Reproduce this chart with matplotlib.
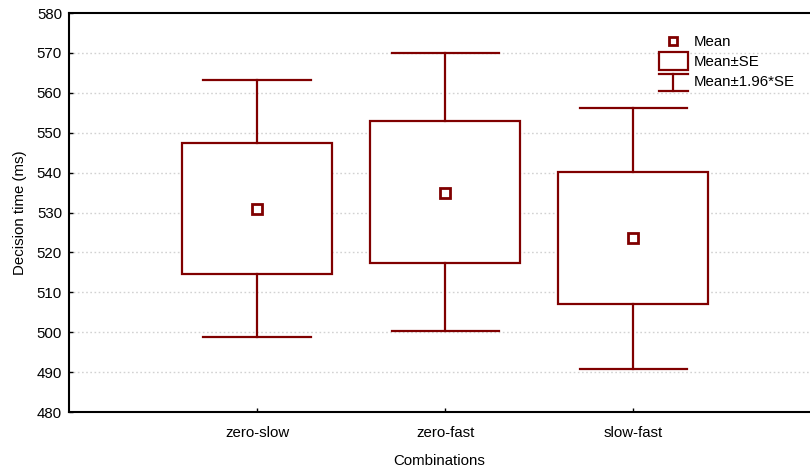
import matplotlib
matplotlib.use("Agg")
import matplotlib.pyplot as plt
from matplotlib.patches import Rectangle
from matplotlib.lines import Line2D

plt.rcParams['font.family'] = ['Liberation Sans', 'DejaVu Sans']

# data
categories = ['zero-slow', 'zero-fast', 'slow-fast']
means = [530.8, 534.8, 523.5]
se_low = [514.6, 517.3, 507.1]
se_high = [547.4, 552.9, 540.2]
ci_low = [498.8, 500.3, 490.9]
ci_high = [563.2, 570.0, 556.3]

col = '#800000'
fs = 10.8

fig = plt.figure(figsize=(8.10, 4.73), dpi=100)
ax = fig.add_axes([69 / 810, 61 / 473, 1 - 69 / 810, 399 / 473])

box_w = 0.8
cap_w = 0.57
for i, cat in enumerate(categories):
    x = i + 1
    ax.add_patch(Rectangle((x - box_w / 2, se_low[i]), box_w, se_high[i] - se_low[i],
                           facecolor='white', edgecolor=col, lw=1.6, zorder=3))
    ax.plot([x, x], [se_high[i], ci_high[i]], color=col, lw=1.6, zorder=3)
    ax.plot([x, x], [ci_low[i], se_low[i]], color=col, lw=1.6, zorder=3)
    ax.plot([x - cap_w / 2, x + cap_w / 2], [ci_high[i]] * 2, color=col, lw=1.6, zorder=3)
    ax.plot([x - cap_w / 2, x + cap_w / 2], [ci_low[i]] * 2, color=col, lw=1.6, zorder=3)
    ax.plot(x, means[i], marker='s', ms=6.5, mfc='white', mec=col, mew=2, zorder=4)

ax.set_xlim(0, 3.94)
ax.set_ylim(480, 580)
ax.set_xticks([1, 2, 3])
ax.set_xticklabels(categories)
ax.set_yticks(range(480, 581, 10))
ax.tick_params(direction='in', length=3, labelsize=fs, width=1)
ax.tick_params(axis='x', pad=10)
ax.tick_params(axis='y', pad=5)
ax.set_xlabel('Combinations', fontsize=fs, labelpad=10)
ax.set_ylabel('Decision time (ms)', fontsize=fs, labelpad=7)
for y in range(490, 580, 10):
    ax.axhline(y, color='#d2d2d2', lw=1, ls=(0, (1.2, 1.8)), zorder=1)
ax.spines['right'].set_visible(False)
for s in ['left', 'top', 'bottom']:
    ax.spines[s].set_linewidth(1.5)

# legend drawn in axes fraction
tr = ax.transAxes
def fx(px):
    return (px - 69) / (810 - 69)
def fy(py):
    return (412 - py) / 399

ax.add_line(Line2D([fx(673)], [fy(41)], marker='s', ms=6, mfc='white', mec=col, mew=2,
                   transform=tr, zorder=5))
ax.add_patch(Rectangle((fx(659), fy(70)), fx(688) - fx(659), fy(52) - fy(70),
                       transform=tr, facecolor='white', edgecolor=col, lw=1.6, zorder=5))
ax.add_line(Line2D([fx(673), fx(673)], [fy(74), fy(91)], color=col, lw=1.6, transform=tr, zorder=5))
ax.add_line(Line2D([fx(659), fx(688)], [fy(74), fy(74)], color=col, lw=1.6, transform=tr, zorder=5))
ax.add_line(Line2D([fx(659), fx(688)], [fy(91), fy(91)], color=col, lw=1.6, transform=tr, zorder=5))
ax.text(fx(694), fy(42), 'Mean', transform=tr, va='center', fontsize=fs, zorder=5)
ax.text(fx(694), fy(62), 'Mean\u00b1SE', transform=tr, va='center', fontsize=fs, zorder=5)
ax.text(fx(694), fy(82), 'Mean\u00b11.96*SE', transform=tr, va='center', fontsize=fs, zorder=5)

plt.savefig('out.png', dpi=100)
